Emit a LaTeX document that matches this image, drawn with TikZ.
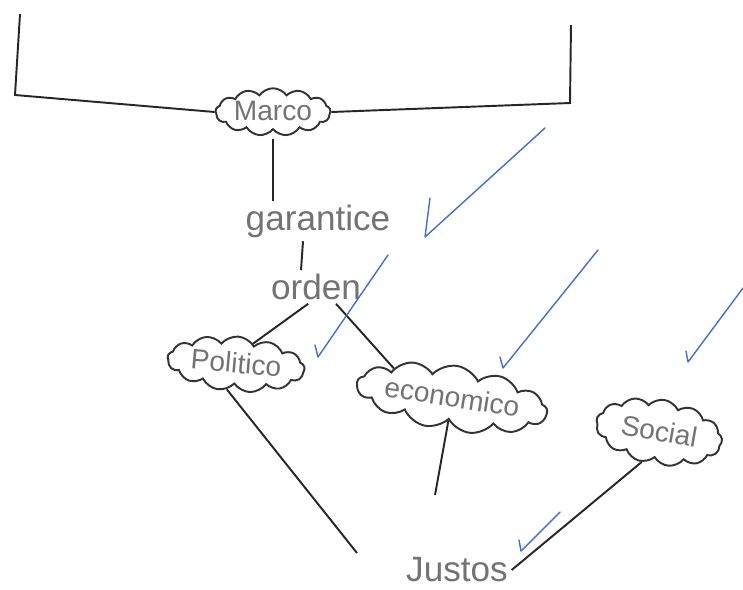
\documentclass[tikz,border=0pt]{standalone}
\usepackage{fontspec}
\setmainfont{Liberation Sans}
\usetikzlibrary{shapes.symbols}
\definecolor{tinta}{RGB}{70,110,205}
% texto sin caja, para que la nube tenga el tamano pedido
\newcommand{\ennube}[1]{\makebox[0pt]{\raisebox{-0.6ex}[0pt][0pt]{#1}}}
\begin{document}
\begin{tikzpicture}[x=0.02cm,y=-0.02cm,
    nube/.style={cloud,cloud puffs=13,cloud puff arc=110,cloud ignores aspect,
        draw=black!80,line width=1.1pt,inner sep=0pt,text=black!55,
        font=\fontsize{16}{18}\selectfont},
    palabra/.style={text=black!55,inner sep=2pt,font=\fontsize{20}{22}\selectfont},
    linea/.style={line width=1.1pt,black!85},
    visto/.style={tinta,line width=0.8pt,line cap=round,line join=round}]
\useasboundingbox (0,0) rectangle (743,589);

% conceptos
\node[nube,minimum width=2.3cm,minimum height=0.95cm] (marco) at (273,112) {\ennube{Marco}};
\node[palabra] (garantice) at (318,221) {garantice};
\node[palabra] (orden) at (316,287) {orden};
\node[nube,rotate=-5,minimum width=2.75cm,minimum height=1.1cm] (politico) at (236,364) {\ennube{Politico}};
\node[nube,rotate=-9,minimum width=3.85cm,minimum height=1.3cm] (economico) at (452,398) {\ennube{economico}};
\node[nube,rotate=-10,minimum width=2.55cm,minimum height=1.3cm] (social) at (659,432) {\ennube{Social}};
\node[palabra] (justos) at (457,570) {Justos};

% corchete de arriba
\coordinate (izqArriba) at (20,14);
\coordinate (izqAbajo) at (15,95);
\coordinate (derArriba) at (571,25);
\coordinate (derAbajo) at (570,103);
\draw[linea] (izqArriba) -- (izqAbajo) -- (marco.west);
\draw[linea] (derArriba) -- (derAbajo) -- (marco.east);

% enlaces
\draw[linea,shorten <=5pt] (marco.south) -- (marco.south |- garantice.north);
\draw[linea] ([xshift=-0.3cm]garantice.south) -- ([xshift=-0.3cm]orden.north);
\draw[linea] (orden.245) -- (politico.55);
\draw[linea] (orden.-40) -- (economico.162);
\coordinate (finPolitico) at (357,553);
\draw[linea] (politico.255) -- (finPolitico);
\coordinate (finEconomico) at (435,495);
\draw[linea] (economico.south) -- (finEconomico);
\draw[linea] (social.250) -- (justos.east);

% vistos en azul
\draw[visto] (430,198) -- (425,237) -- (545,128);
\draw[visto] (315,345) -- (318,357) -- (388,255);
\draw[visto] (500,357) -- (503,368) -- (598,250);
\draw[visto] (686,351) -- (688,362) -- (743,288);
\draw[visto] (519,540) -- (521,551) -- (560,512);
\end{tikzpicture}
\end{document}
